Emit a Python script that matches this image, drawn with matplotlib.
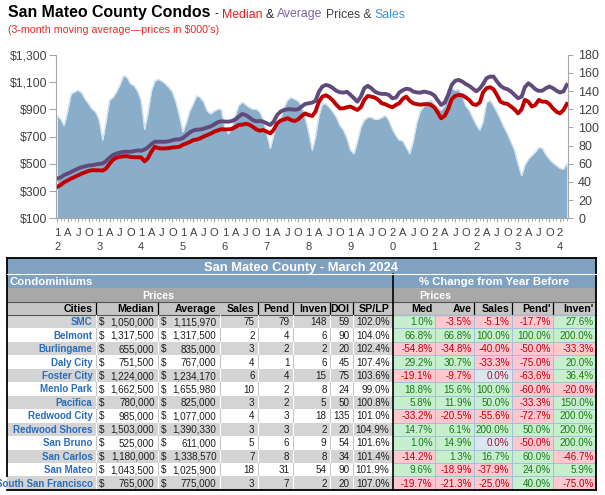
import matplotlib
matplotlib.use("Agg")
import matplotlib.pyplot as plt
from matplotlib.patches import Rectangle
import pandas as pd

plt.rcParams['font.family'] = ['Liberation Sans', 'DejaVu Sans']

# 3-month moving averages, Jan 2012 .. Mar 2024 (prices in $000's)
median = [331, 345, 365, 378, 392, 404, 415, 428, 438, 448, 453, 453,
          452, 450, 465, 500, 530, 545, 551, 555, 556, 550, 548, 548,
          547, 518, 540, 590, 625, 615, 612, 613, 615, 620, 622, 625,
          640, 650, 660, 674, 678, 687, 700, 711, 722, 736, 745, 754,
          752, 753, 756, 769, 785, 787, 794, 787, 772, 753, 743, 748,
          736, 723, 748, 797, 817, 826, 834, 821, 814, 826, 851, 870,
          858, 851, 883, 956, 993, 1003, 988, 964, 932, 907, 907, 915,
          920, 907, 895, 915, 969, 998, 993, 986, 969, 944, 937, 924,
          915, 932, 944, 977, 993, 962, 944, 938, 934, 937, 939, 932,
          915, 875, 834, 851, 900, 973, 998, 1005, 1003, 988, 969, 939,
          932, 949, 1023, 1055, 1062, 1047, 1005, 956, 944, 939, 920, 900,
          870, 900, 969, 956, 920, 932, 969, 956, 956, 939, 907, 883,
          870, 895, 939]
average = [392, 400, 417, 428, 440, 452, 465, 475, 482, 488, 490, 495,
           500, 502, 520, 545, 565, 576, 582, 588, 588, 588, 593, 598,
           596, 605, 620, 645, 662, 662, 662, 662, 666, 672, 679, 679,
           690, 710, 730, 745, 750, 752, 758, 767, 775, 790, 805, 812,
           810, 809, 814, 825, 846, 866, 858, 841, 821, 812, 814, 809,
           797, 785, 809, 858, 883, 895, 900, 900, 897, 900, 920, 939,
           944, 949, 961, 1030, 1067, 1079, 1072, 1055, 1035, 1025, 1023, 1028,
           1006, 981, 956, 993, 1055, 1072, 1055, 1030, 1018, 1013, 1013, 1006,
           981, 986, 1023, 1040, 1051, 1047, 1030, 1024, 1022, 1030, 1025, 1018,
           1001, 964, 932, 949, 1005, 1079, 1109, 1116, 1104, 1086, 1072, 1052,
           1032, 1052, 1084, 1128, 1140, 1140, 1104, 1072, 1055, 1047, 1030, 1006,
           981, 993, 1062, 1091, 1072, 1047, 1035, 1037, 1055, 1067, 1055, 1037,
           1023, 1032, 1079]
sales = [113, 109, 102, 118, 137, 139, 141, 138, 131, 126, 120, 117,
         108, 86, 106, 130, 133, 139, 147, 157, 155, 148, 146, 140,
         130, 98, 115, 140, 151, 153, 151, 148, 144, 139, 128, 113,
         95, 106, 118, 126, 135, 133, 128, 118, 115, 118, 120, 120,
         100, 93, 100, 113, 124, 128, 125, 122, 120, 120, 117, 109,
         93, 77, 91, 104, 109, 122, 130, 133, 131, 129, 124, 111,
         95, 75, 89, 113, 126, 126, 122, 117, 111, 102, 97, 88,
         75, 71, 84, 100, 108, 111, 111, 109, 109, 111, 113, 108,
         98, 91, 86, 85, 78, 71, 85, 105, 118, 123, 128, 130,
         126, 122, 119, 124, 141, 143, 141, 142, 135, 124, 119, 111,
         103, 97, 106, 127, 130, 124, 117, 109, 100, 93, 84, 75,
         60, 47, 58, 65, 69, 73, 78, 77, 70, 65, 61, 58,
         55, 54, 60]
months = pd.date_range('2012-01-01', periods=len(median), freq='MS')

# table data, March 2024
cities = ['SMC', 'Belmont', 'Burlingame', 'Daly City', 'Foster City', 'Menlo Park',
          'Pacifica', 'Redwood City', 'Redwood Shores', 'San Bruno', 'San Carlos',
          'San Mateo', 'South San Francisco']
med_price = [1050000, 1317500, 655000, 751500, 1224000, 1662500, 780000, 985000,
             1503000, 525000, 1180000, 1043500, 765000]
ave_price = [1115970, 1317500, 835000, 767000, 1234170, 1655980, 825000, 1077000,
             1390330, 611000, 1338570, 1025900, 775000]
n_sales = [75, 2, 3, 4, 6, 10, 3, 4, 3, 5, 7, 18, 3]
n_pend = [79, 4, 2, 1, 4, 2, 2, 3, 3, 6, 8, 31, 7]
n_inven = [148, 6, 2, 6, 15, 8, 5, 18, 2, 9, 8, 54, 2]
doi = [59, 90, 20, 45, 75, 24, 50, 135, 20, 54, 34, 90, 20]
sp_lp = [102.0, 104.0, 102.4, 107.4, 103.6, 99.0, 100.8, 101.0, 104.9, 101.6, 101.4, 101.9, 107.0]
chg_med = [1.0, 66.8, -54.8, 29.2, -19.1, 18.8, 5.8, -33.2, 14.7, 1.0, -14.2, 9.6, -19.7]
chg_ave = [-3.5, 66.8, -34.8, 30.7, -9.7, 15.6, 11.9, -20.5, 6.1, 14.9, 1.3, -18.9, -21.3]
chg_sales = [-5.1, 100.0, -40.0, -33.3, 0.0, 100.0, 50.0, -55.6, 200.0, 0.0, 16.7, -37.9, -25.0]
chg_pend = [-17.7, 100.0, -50.0, -75.0, -63.6, -60.0, -33.3, -72.7, 50.0, -50.0, 60.0, 24.0, 40.0]
chg_inven = [27.6, 200.0, -33.3, 20.0, 36.4, -20.0, 150.0, 200.0, 200.0, 200.0, -46.7, 5.9, -75.0]

W, H = 605, 495
fig = plt.figure(figsize=(W / 100, H / 100), dpi=100)


def fx(x):
    return x / W


def fy(y):
    return 1 - y / H


# ---- chart ----
ax = fig.add_axes([fx(56), fy(218.3), fx(568.3) - fx(56), fy(54.8) - fy(218.3)])
axp = ax.twinx()
ax.fill_between(months, sales, color='#8AAEC9', lw=0)
ax.plot(months, sales, color='#D6E4EF', lw=1.0)
ax.set_ylim(0, 180)
ax.set_yticks(range(0, 181, 20))
ax.yaxis.tick_right()
ax.set_xlim(months[0] - pd.Timedelta(days=11), months[-1] + pd.Timedelta(days=13))

axp.plot(months, average, color='#604A7B', lw=2.8, solid_joinstyle='round')
axp.plot(months, median, color='#C00000', lw=2.8, solid_joinstyle='round')
axp.set_ylim(100, 1300)
axp.set_yticks(range(100, 1301, 200))
axp.yaxis.set_major_formatter(lambda v, p: f'${v:,.0f}')
axp.yaxis.tick_left()

for a in (ax, axp):
    for s in a.spines.values():
        s.set_color('#A6A6A6')
    a.spines['top'].set_visible(False)
ax.spines['left'].set_visible(False)
axp.spines['right'].set_visible(False)
axp.spines['bottom'].set_visible(False)

quarters = months[::3]
month_letter = {4: 'A', 7: 'J', 10: 'O'}
qlabels = [f'{d.year % 100 // 10}\n{d.year % 10}' if d.month == 1 else month_letter[d.month]
           for d in quarters]
ax.set_xticks(quarters)
ax.set_xticklabels(qlabels, linespacing=1.55)
ax.set_xticks(months, minor=True)
ax.tick_params(axis='x', which='major', length=3, pad=4, labelsize=8, colors='#A6A6A6',
               labelcolor='#404040')
ax.tick_params(axis='x', which='minor', length=2.5, colors='#A6A6A6')
ax.tick_params(axis='y', length=3.6, pad=3.5, labelsize=9, colors='#A6A6A6', labelcolor='#404040')
axp.tick_params(axis='y', length=5, pad=1.5, labelsize=8.8, colors='#A6A6A6', labelcolor='#404040')


# ---- title ----
def run_text(x, y, parts):
    r = fig.canvas.get_renderer()
    for s, c, w, size in parts:
        a = fig.text(0, 0, 'x x', fontsize=size, fontweight=w)
        b = fig.text(0, 0, 'xx', fontsize=size, fontweight=w)
        sp = a.get_window_extent(r).width - b.get_window_extent(r).width
        a.remove()
        b.remove()
        core = s.strip(' ')
        x += sp * (len(s) - len(s.lstrip(' ')))
        t = fig.text(fx(x), fy(y), core, color=c, fontsize=size, fontweight=w, va='baseline')
        x += t.get_window_extent(r).width + sp * (len(s) - len(s.rstrip(' ')))


run_text(7.5, 17.5, [
    ('San Mateo County Condos ', 'black', 'bold', 11.4),
    ('- ', '#262626', 'normal', 8.8),
    ('Median', '#E02020', 'normal', 8.8),
    (' & ', '#262626', 'normal', 8.8),
    ('Average', '#7F62A8', 'normal', 8.8),
    (' Prices & ', '#404040', 'normal', 8.8),
    ('Sales', '#3F8FD2', 'normal', 8.8),
])
fig.text(fx(7.5), fy(33), "(3-month moving average\u2014prices in $000's)", color='#F02828',
         fontsize=7.7, va='baseline')

# ---- table ----
axt = fig.add_axes([0, 0, 1, 1])
axt.set_xlim(0, W)
axt.set_ylim(H, 0)
axt.axis('off')

L, M, R = 7, 393, 596
left_edges = [7, 96, 158, 220, 258, 293, 330, 353, 393]
right_edges = [393, 435, 474, 512, 553, 596]
y_title, y_cond, y_pr, y_head, y_data = 258.3, 274, 288, 301.5, 315
row_h = 13.45
blue_bg, gray_bg, head_bg, row_gray = '#80A2C0', '#A8A8A8', '#C6C6C6', '#D4D4D4'
num_size = 7.1


def base(top, h, size):
    return top + h / 2 + 0.358 * size * 100 / 72


def cell(x0, y0, x1, y1, color):
    axt.add_patch(Rectangle((x0, y0), x1 - x0, y1 - y0, color=color, lw=0))


cell(L, y_title, R, y_cond, blue_bg)
cell(L, y_cond + 0.8, R, y_pr, blue_bg)
cell(L, y_pr, R, y_head, gray_bg)
cell(L, y_head, R, y_data, head_bg)
axt.text((L + R) / 2, base(y_title, y_cond - y_title, 9.3), 'San Mateo County - March 2024',
         color='white', fontsize=9.3, fontweight='bold', ha='center', va='baseline')
axt.text(L + 3, base(y_cond, y_pr - y_cond, 8.2), 'Condominiums', color='white',
         fontsize=8.2, fontweight='bold', va='baseline')
axt.text((M + R) / 2, base(y_cond, y_pr - y_cond, 8.2), '% Change from Year Before', color='white',
         fontsize=8.2, fontweight='bold', ha='center', va='baseline')
axt.text(left_edges[2], base(y_pr, y_head - y_pr, 7.7), 'Prices', color='white',
         fontsize=7.7, fontweight='bold', ha='center', va='baseline')
axt.text(right_edges[1], base(y_pr, y_head - y_pr, 7.7), 'Prices', color='white',
         fontsize=7.7, fontweight='bold', ha='center', va='baseline')

left_heads = ['Cities', 'Median', 'Average', 'Sales', 'Pend', 'Inven', 'DOI', 'SP/LP']
right_heads = ['Med', 'Ave', 'Sales', "Pend'", "Inven'"]
hb = base(y_head, y_data - y_head, 7.7)
for i, h in enumerate(left_heads):
    axt.text(left_edges[i + 1] - 3.5, hb, h, fontsize=7.7, fontweight='bold', ha='right', va='baseline')
for i, h in enumerate(right_heads):
    axt.text(right_edges[i + 1] - 2.5, hb, h, fontsize=7.7, fontweight='bold', ha='right', va='baseline')
for x in [96, 158, 258, 293, 330, 353, 474, 512, 553]:
    axt.plot([x, x], [y_head, y_data], color='black', lw=0.9)
axt.plot([L, R], [y_head, y_head], color='#555555', lw=0.8)
axt.plot([L, R], [y_data, y_data], color='#555555', lw=0.8)

clip = Rectangle((L, y_data), R - L, row_h * len(cities), transform=axt.transData,
                 fill=False, lw=0)
axt.add_patch(clip)

for r, city in enumerate(cities):
    top = y_data + r * row_h
    bg = row_gray if r % 2 == 0 else 'white'
    cell(L, top, M, top + row_h, bg)
    sep = 'white' if r % 2 == 0 else '#C8C8C8'
    for x in left_edges[1:-1]:
        axt.plot([x, x], [top, top + row_h], color=sep, lw=0.8)
    b = base(top, row_h, num_size)
    t = axt.text(left_edges[1] - 3.5, base(top, row_h, 7.0), city, color='#2A6EBB',
                 fontsize=7.0, fontweight='bold', ha='right', va='baseline')
    t.set_clip_path(clip)
    vals = [f'{med_price[r]:,}', f'{ave_price[r]:,}', str(n_sales[r]), str(n_pend[r]),
            str(n_inven[r]), str(doi[r]), f'{sp_lp[r]:.1f}%']
    for i, v in enumerate(vals):
        axt.text(left_edges[i + 2] - 3.5, b, v, fontsize=num_size, color='#1E1E1E',
                 ha='right', va='baseline')
    for i in (1, 2):
        axt.text(left_edges[i] + 3, b, '$', fontsize=num_size, color='#1E1E1E', va='baseline')
    chg = [chg_med[r], chg_ave[r], chg_sales[r], chg_pend[r], chg_inven[r]]
    for i, v in enumerate(chg):
        if v > 0:
            fc, tc = '#C6EFCE', '#1A7A1A'
        elif v < 0:
            fc, tc = '#FFC7CE', '#C00010'
        else:
            fc, tc = '#DCE6F1', '#A0102A'
        x0, x1 = right_edges[i], right_edges[i + 1]
        cell(x0, top, x1, top + row_h, fc)
        axt.text(x1 - 2.5, b, f'{v:.1f}%', fontsize=num_size, color=tc, ha='right', va='baseline')
    axt.plot([M, R], [top, top], color='#A6BFDD', lw=0.7)
    for x in right_edges[1:-1]:
        axt.plot([x, x], [top, top + row_h], color='#A6BFDD', lw=0.7)

y_end = y_data + row_h * len(cities)
axt.plot([L, R], [y_title, y_title], color='black', lw=1.3)
axt.plot([L, R], [y_end, y_end], color='black', lw=1.3)
axt.plot([L, L], [y_title, y_end - row_h], color='black', lw=1.3)
axt.plot([R, R], [y_title, y_end], color='black', lw=1.3)
axt.plot([M, M], [y_cond, y_end], color='black', lw=1.2)
axt.plot([L, R], [y_cond, y_cond], color='white', lw=0.8)

fig.savefig('out.png', dpi=100)
